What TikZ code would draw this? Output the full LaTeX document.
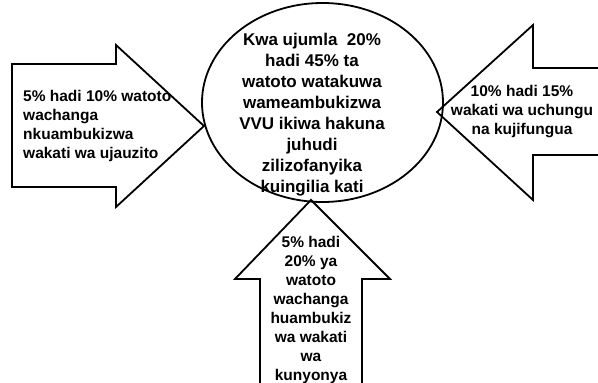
\documentclass[tikz,border=0pt]{standalone}
\usepackage{fontspec}
\setmainfont{Liberation Sans}
\begin{document}
\begin{tikzpicture}[x=1pt,y=-1pt,
  shapeline/.style={draw=black,line width=1.8pt,line join=miter},
  lbl/.style={font=\bfseries\fontsize{15.5}{19}\selectfont,inner sep=0pt},
  biglbl/.style={font=\bfseries\fontsize{17}{21}\selectfont,inner sep=0pt,align=center}]
\useasboundingbox (0,0) rectangle (598,383);
% central ellipse
\draw[shapeline] (322.5,102.5) ellipse [x radius=120.5, y radius=99.5];
% left arrow
\draw[shapeline] (12,64) -- (116,64) -- (116,45) -- (204,126) -- (116,207) -- (116,187) -- (12,187) -- cycle;
% right arrow
\draw[shapeline] (599,68) -- (533,68) -- (533,25) -- (437,112) -- (533,200) -- (533,155) -- (599,155);
% bottom arrow
\draw[shapeline] (260,384) -- (260,279) -- (235,279) -- (311,200) -- (390,279) -- (362,279) -- (362,384);
% texts
\node[biglbl] (center) at (312,115) {Kwa ujumla\ \ 20\%\\hadi 45\% ta\\watoto watakuwa\\wameambukizwa\\VVU ikiwa hakuna\\juhudi\\zilizofanyika\\kuingilia kati};
\node[lbl,align=left,anchor=west] (left) at (23,126) {5\% hadi 10\% watoto\\wachanga\\nkuambukizwa\\wakati wa ujauzito};
\node[lbl,align=center] (right) at (522,112) {10\% hadi 15\%\\wakati wa uchungu\\na kujifungua};
\node[lbl,align=center] (bottom) at (311,310) {5\% hadi\\20\% ya\\watoto\\wachanga\\huambukiz\\wa wakati\\wa\\kunyonya};
\end{tikzpicture}
\end{document}
